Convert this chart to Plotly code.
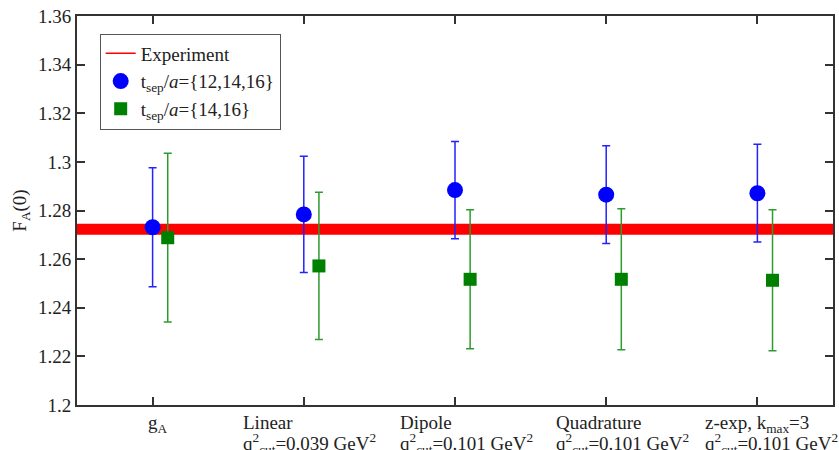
import plotly.graph_objects as go

# Fit categories (x positions 1..5)
categories = ["gA", "Linear", "Dipole", "Quadrature", "z-exp"]
cat_line1 = ["g<sub>A</sub>", "Linear", "Dipole", "Quadrature", "z-exp, k<sub>max</sub>=3"]
cat_line2 = ["",
             "q<sup>2</sup><sub>cut</sub>=0.039 GeV<sup>2</sup>",
             "q<sup>2</sup><sub>cut</sub>=0.101 GeV<sup>2</sup>",
             "q<sup>2</sup><sub>cut</sub>=0.101 GeV<sup>2</sup>",
             "q<sup>2</sup><sub>cut</sub>=0.101 GeV<sup>2</sup>"]
x_pos = [1, 2, 3, 4, 5]

# F_A(0) with t_sep/a = {12,14,16}
fa_all = [1.2731, 1.2784, 1.2884, 1.2865, 1.2871]
fa_all_err = [0.0245, 0.0239, 0.0200, 0.0201, 0.0201]

# F_A(0) with t_sep/a = {14,16}
fa_late = [1.2688, 1.2572, 1.2517, 1.2517, 1.2513]
fa_late_err = [0.0347, 0.0303, 0.0286, 0.0290, 0.0290]

# Experimental g_A
exp_value = 1.2723
exp_err = 0.0023

y_ticks = [1.2, 1.22, 1.24, 1.26, 1.28, 1.3, 1.32, 1.34, 1.36]

FONT = "Times New Roman, Liberation Serif, DejaVu Serif, serif"
TEXT_COLOR = "#222222"
AXIS_COLOR = "#333333"
GREEN_OFFSET = 0.1

fig = go.Figure()

# experimental band across the whole x range
x_lo, x_hi = 0.5, 5.5
fig.add_trace(go.Scatter(
    x=[x_lo, x_hi, x_hi, x_lo, x_lo],
    y=[exp_value - exp_err, exp_value - exp_err, exp_value + exp_err,
       exp_value + exp_err, exp_value - exp_err],
    mode="lines", fill="toself", fillcolor="#ff0000",
    line=dict(width=0, color="#ff0000"),
    hoverinfo="skip", showlegend=False,
))
# legend entry for the experiment
fig.add_trace(go.Scatter(
    x=[None], y=[None], mode="lines", name="Experiment",
    line=dict(color="#ff0000", width=1.5),
))

fig.add_trace(go.Scatter(
    x=x_pos, y=fa_all, mode="markers",
    name="t<sub>sep</sub>/<i>a</i>={12,14,16}",
    marker=dict(symbol="circle", size=16, color="#0000ff"),
    error_y=dict(type="data", array=fa_all_err, visible=True,
                 color="#2222ff", thickness=1.5, width=4),
))

fig.add_trace(go.Scatter(
    x=[v + GREEN_OFFSET for v in x_pos], y=fa_late, mode="markers",
    name="t<sub>sep</sub>/<i>a</i>={14,16}",
    marker=dict(symbol="square", size=13, color="#008000"),
    error_y=dict(type="data", array=fa_late_err, visible=True,
                 color="#2f9a2f", thickness=1.5, width=4),
))

# category labels under the x axis (block left-aligned, centred on the tick)
label_shift = [-7, -63, -57, -52, -54]
annotations = []
for xp, l1, l2, dx in zip(x_pos, cat_line1, cat_line2, label_shift):
    annotations.append(dict(
        x=xp, y=0, xref="x", yref="paper", text=l1, showarrow=False,
        xanchor="left", yanchor="top", xshift=dx, yshift=-5,
        font=dict(family=FONT, size=19, color=TEXT_COLOR),
    ))
    if l2:
        annotations.append(dict(
            x=xp, y=0, xref="x", yref="paper", text=l2, showarrow=False,
            xanchor="left", yanchor="top", xshift=dx, yshift=-23,
            font=dict(family=FONT, size=19, color=TEXT_COLOR),
        ))

fig.update_layout(
    width=839, height=450,
    margin=dict(l=77, r=4, t=16, b=45),
    paper_bgcolor="white", plot_bgcolor="white",
    font=dict(family=FONT, size=19, color=TEXT_COLOR),
    showlegend=True,
    legend=dict(
        x=0.03, y=0.955, xanchor="left", yanchor="top",
        bgcolor="white", bordercolor="#555555", borderwidth=1,
        font=dict(family=FONT, size=19, color=TEXT_COLOR),
        tracegroupgap=0,
    ),
    annotations=annotations,
)

fig.update_xaxes(
    range=[0.5, 5.5], tickvals=x_pos, showticklabels=False,
    ticks="inside", ticklen=8, tickwidth=2, tickcolor=AXIS_COLOR,
    showline=True, linewidth=2, linecolor=AXIS_COLOR, mirror="ticks",
    showgrid=False, zeroline=False,
)
fig.update_yaxes(
    range=[1.2, 1.36], tickvals=y_ticks,
    ticktext=[f"{v:g}" for v in y_ticks],
    ticks="inside", ticklen=8, tickwidth=2, tickcolor=AXIS_COLOR,
    showline=True, linewidth=2, linecolor=AXIS_COLOR, mirror="ticks",
    showgrid=False, zeroline=False,
    tickfont=dict(family=FONT, size=19, color=TEXT_COLOR),
    title=dict(text="F<sub>A</sub>(0)", standoff=6,
               font=dict(family=FONT, size=19, color=TEXT_COLOR)),
)

fig.write_html("out.html")
